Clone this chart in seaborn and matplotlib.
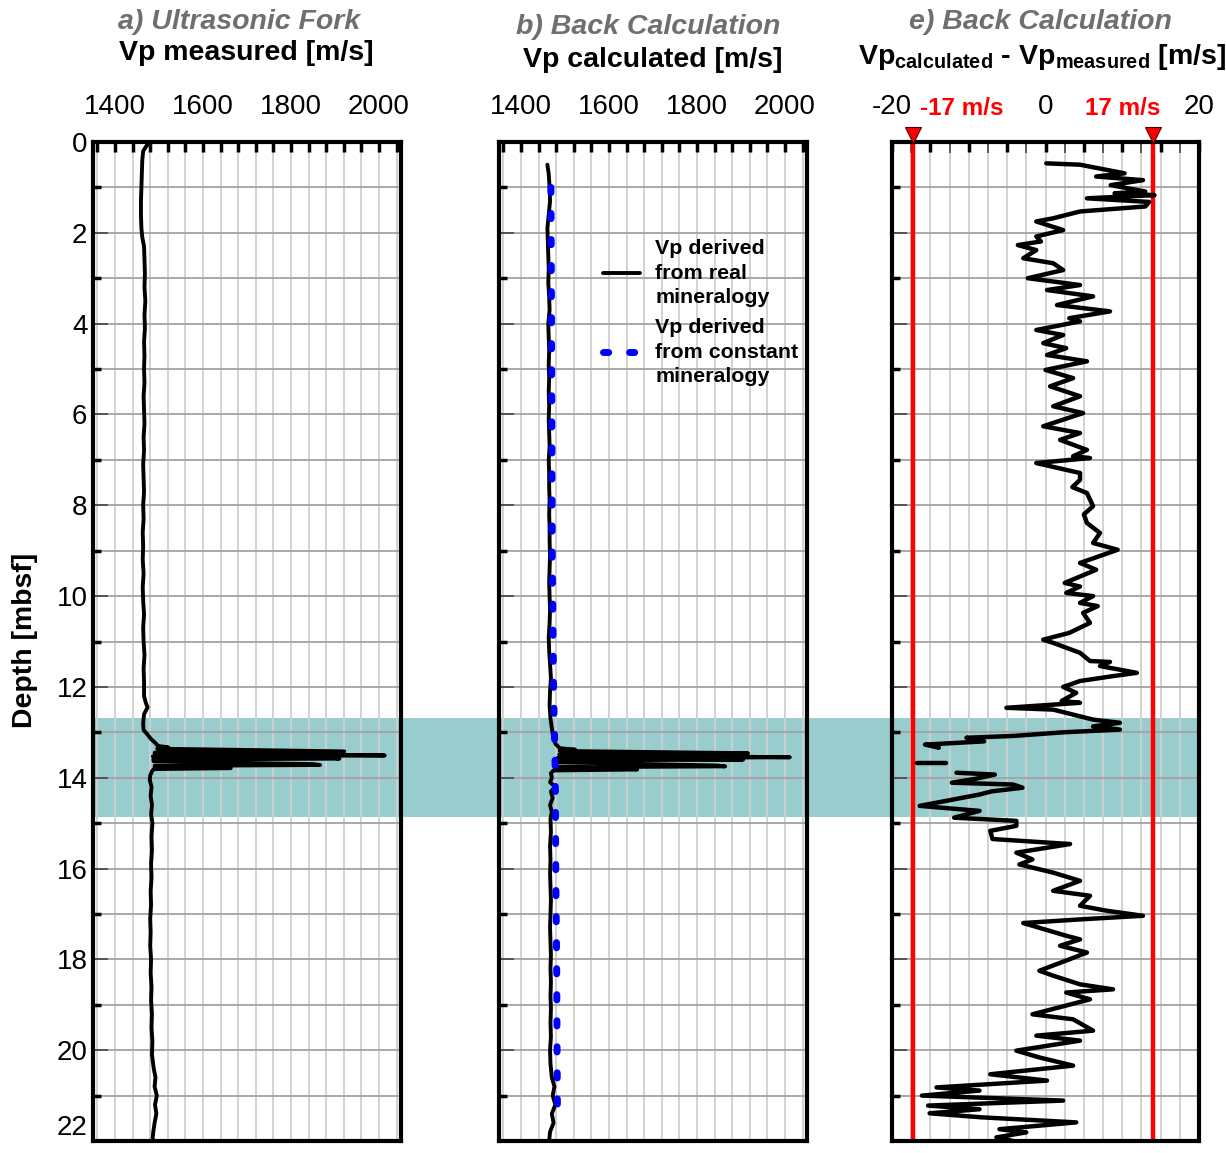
import numpy as np
import pandas as pd
import matplotlib
matplotlib.use("Agg")
import matplotlib.pyplot as plt
import matplotlib.transforms as mtransforms
from matplotlib.patches import Rectangle
import seaborn as sns

# ---------------- data ----------------
# a) Ultrasonic fork, Vp measured
a_depth = [0.0, 0.08, 0.2, 0.4, 0.7, 1.0, 1.3, 1.6, 1.9, 2.1, 2.3, 2.6, 2.9, 3.2, 3.5, 3.8,
           4.1, 4.4, 4.7, 5.0, 5.3, 5.6, 5.9, 6.2, 6.5, 6.8, 7.1, 7.4, 7.7, 8.0, 8.3, 8.6,
           8.9, 9.2, 9.5, 9.8, 10.1, 10.4, 10.7, 11.0, 11.3, 11.6, 11.9, 12.2, 12.35, 12.45,
           12.6, 12.8, 12.95, 13.05, 13.15, 13.22, 13.3, 13.33, 13.36, 13.42, 13.45,
           13.51, 13.53, 13.56, 13.58, 13.60, 13.64, 13.70, 13.72, 13.74, 13.77, 13.79,
           13.81, 13.86, 13.95, 14.05, 14.2, 14.4, 14.6, 14.8, 15.0, 15.3, 15.6, 15.9, 16.2,
           16.5, 16.8, 17.1, 17.4, 17.7, 18.0, 18.3, 18.6, 18.9, 19.2, 19.5, 19.8, 20.1, 20.4,
           20.6, 20.8, 21.0, 21.2, 21.4, 21.6, 21.8, 22.0]
a_vp = [1482, 1472, 1464, 1462, 1461, 1460, 1459, 1459, 1460, 1462, 1466, 1467, 1468, 1467,
        1469, 1467, 1468, 1466, 1467, 1466, 1467, 1465, 1466, 1467, 1465, 1466, 1464, 1465,
        1466, 1464, 1465, 1463, 1464, 1463, 1465, 1463, 1464, 1466, 1464, 1465, 1467, 1465,
        1466, 1466, 1470, 1474, 1466, 1464, 1465, 1474, 1482, 1490, 1498, 1521, 1496, 1921,
        1490, 2013, 1486, 1895, 1910, 1487, 1488, 1850, 1866, 1490, 1655, 1663,
        1488, 1484, 1480, 1479, 1483, 1481, 1484, 1482, 1485, 1483, 1484, 1482, 1483, 1481,
        1482, 1480, 1481, 1480, 1482, 1481, 1483, 1482, 1484, 1483, 1485, 1484, 1488, 1492,
        1490, 1495, 1491, 1494, 1490, 1487, 1485]

# b) Back calculation, Vp from real mineralogy
b_depth = [0.5, 0.7, 1.0, 1.3, 1.6, 1.9, 2.2, 2.5, 2.8, 3.1, 3.4, 3.7, 4.0, 4.3, 4.6, 4.9,
           5.2, 5.5, 5.8, 6.1, 6.4, 6.7, 7.0, 7.3, 7.6, 7.9, 8.2, 8.5, 8.8, 9.1, 9.4, 9.7,
           10.0, 10.3, 10.6, 10.9, 11.2, 11.5, 11.8, 12.1, 12.4, 12.7, 12.9, 13.1, 13.25,
           13.35, 13.38, 13.41, 13.46, 13.49, 13.55, 13.57, 13.60, 13.62, 13.66,
           13.73, 13.75, 13.77, 13.80, 13.82, 13.84, 13.9, 14.0, 14.1, 14.2, 14.3, 14.45, 14.6,
           14.75, 14.9, 15.2, 15.5, 15.8, 16.1, 16.4, 16.7, 17.0, 17.3, 17.6, 17.9, 18.2, 18.5,
           18.8, 19.1, 19.4, 19.7, 20.0, 20.3, 20.6, 20.8, 21.0, 21.2, 21.4, 21.6, 21.8, 22.0]
b_vp = [1460, 1463, 1465, 1466, 1463, 1460, 1461, 1462, 1463, 1462, 1464, 1465, 1462, 1463,
        1464, 1463, 1464, 1463, 1464, 1463, 1464, 1465, 1463, 1464, 1464, 1465, 1464, 1465,
        1465, 1466, 1465, 1464, 1465, 1466, 1465, 1463, 1464, 1466, 1468, 1466, 1465, 1467,
        1470, 1473, 1478, 1488, 1523, 1488, 1916, 1487, 2011, 1482, 1905, 1480,
        1478, 1845, 1864, 1476, 1655, 1664, 1474, 1468, 1470, 1466, 1478, 1468, 1472, 1466,
        1470, 1467, 1468, 1466, 1467, 1466, 1467, 1468, 1467, 1466, 1467, 1468, 1467, 1468,
        1467, 1468, 1467, 1468, 1466, 1467, 1470, 1476, 1472, 1478, 1470, 1474, 1466, 1464]

# b) Vp from constant mineralogy
c_depth = [1.0, 3.0, 6.0, 9.0, 12.0, 13.0, 14.0, 16.0, 18.0, 20.0, 21.6]
c_vp = [1468, 1469, 1470, 1471, 1474, 1476, 1478, 1479, 1481, 1482, 1483]

# e) Vp calculated - Vp measured
e_depth = [0.47, 0.50, 0.69, 0.76, 0.84, 0.95, 1.09, 1.13, 1.17, 1.24, 1.32, 1.42, 1.53, 1.68,
           1.75, 1.94, 2.08, 2.19, 2.27, 2.38, 2.56, 2.67, 2.82, 3.00, 3.15, 3.26, 3.40, 3.59,
           3.73, 3.88, 3.95, 4.14, 4.25, 4.43, 4.54, 4.69, 4.83, 5.02, 5.20, 5.38, 5.60, 5.82,
           5.97, 6.26, 6.41, 6.56, 6.78, 6.92, 6.96, 7.07, 7.29, 7.44, 7.60, 7.73, 8.02, 8.20,
           8.39, 8.61, 8.83, 8.98, 9.27, 9.42, 9.71, 9.79, 9.93, 10.00, 10.15, 10.22, 10.37,
           10.59, 10.81, 10.96, 11.03, 11.25, 11.43, 11.45, 11.54, 11.69, 11.76, 11.87, 12.00,
           12.13, 12.31, 12.35, 12.46, 12.50, 12.72, 12.79, 12.87, 12.94, 13.00, 13.08, 13.12,
           13.20, 13.27, 13.34]
e_diff = [0.1, 4.5, 10.3, 6.6, 12.7, 8.5, 13.0, 9.0, 14.2, 5.4, 13.5, 13.0, 4.5, 1.0,
          -1.2, 2.3, -1.2, -0.6, -3.6, -1.2, -2.9, 1.0, 2.3, -2.3, 4.5, 0.2, 6.2, 1.5,
          8.4, 3.1, 4.5, -1.2, 2.3, -0.3, 2.7, 0.2, 5.4, 0.0, 3.6, 0.6, 4.5, 1.0,
          4.9, -0.3, 4.5, 1.9, 5.4, 3.6, 5.8, -1.2, 4.5, 4.5, 3.5, 5.4, 6.2, 5.0,
          5.4, 7.1, 6.2, 9.4, 4.5, 6.6, 2.5, 4.5, 2.7, 6.2, 4.5, 6.8, 4.9,
          5.8, 3.1, -0.3, 1.0, 4.5, 5.8, 8.4, 7.1, 11.9, 8.9, 4.5, 2.3,
          4.0, 2.1, 4.5, -5.1, 1.0, 6.2, 9.7, 6.2, 9.7, 2.3, -4.2, -10.3,
          -8.0, -15.7, -13.9]
e_gap_depth = [13.67, 13.67]
e_gap_diff = [-16.8, -12.9]
e2_depth = [13.89, 13.93, 14.02, 14.11, 14.15, 14.22, 14.30, 14.37, 14.62, 14.73, 14.88, 14.95,
            15.06, 15.17, 15.35, 15.46, 15.65, 15.80, 15.91, 16.09, 16.27, 16.49, 16.60, 16.82,
            16.93, 17.04, 17.12, 17.20, 17.48, 17.56, 17.70, 17.85, 18.00, 18.25, 18.36, 18.55,
            18.66, 18.73, 18.88, 19.21, 19.32, 19.57, 19.68, 19.79, 20.01, 20.16, 20.34, 20.53,
            20.67, 20.82, 20.89, 21.00, 21.11, 21.22, 21.30, 21.39, 21.48, 21.59, 21.74, 21.81,
            21.92, 22.00]
e2_diff = [-11.6, -6.6, -9.0, -12.2, -4.2, -3.0, -7.0, -8.6, -16.4, -8.6, -11.9, -3.8,
           -3.8, -7.2, -6.9, 3.2, -3.8, -1.7, -3.4, 1.0, 4.5, 1.0, 5.8, 4.5,
           8.0, 12.7, 4.5, -2.9, 2.7, 4.5, 1.9, 5.4, 3.1, -0.8, 1.0, 4.5,
           8.8, 2.7, 5.8, -1.7, 3.6, 6.2, -1.2, 4.5, -3.8, -0.8, 3.6, -7.2,
           0.2, -14.2, -8.6, -16.1, 2.3, -15.3, -8.6, -15.1, -8.2, 4.0, -6.0, -2.5,
           -6.4, -4.2]

e_limits = [-17.2, 14.0]
e_limit_labels = ["-17 m/s", "17 m/s"]
band_depth = [12.69, 14.87]

vp_ticks = [1400, 1600, 1800, 2000]
diff_ticks = [-20, 0, 20]
depth_ticks = list(range(0, 23, 2))

# ---------------- style ----------------
sns.set_style("white")
plt.rcParams['font.family'] = ['Liberation Sans', 'DejaVu Sans']
plt.rcParams['text.color'] = 'black'
plt.rcParams['axes.labelcolor'] = 'black'
plt.rcParams['xtick.color'] = 'black'
plt.rcParams['ytick.color'] = 'black'
plt.rcParams['mathtext.fontset'] = 'custom'
plt.rcParams['mathtext.rm'] = 'Liberation Sans'
plt.rcParams['mathtext.bf'] = 'Liberation Sans:bold'
plt.rcParams['mathtext.it'] = 'Liberation Sans:italic'

W, H = 1226, 1153
fig = plt.figure(figsize=(W / 100, H / 100), dpi=100)
TEAL = '#99cccc'
GRAY_T = '#6f6f6f'


def px_axes(l, t, r, b):
    return fig.add_axes([l / W, 1 - b / H, (r - l) / W, (b - t) / H])


ax_a = px_axes(93, 142, 401, 1141)
ax_b = px_axes(499, 142, 807, 1141)
ax_e = px_axes(892, 142, 1199, 1141)

# band across whole figure (between panels)
rect = Rectangle((93 / W, band_depth[0]), (1199 - 93) / W, band_depth[1] - band_depth[0],
                 transform=mtransforms.blended_transform_factory(fig.transFigure, ax_a.transData),
                 facecolor=TEAL, edgecolor='none', zorder=-1)
fig.add_artist(rect)


def style_axes(ax, xlim, major_x, minor_x, xlabels_at, show_y):
    ax.set_axisbelow('line')
    ax.set_xlim(*xlim)
    ax.set_ylim(22, 0)
    ax.axhspan(band_depth[0], band_depth[1], color=TEAL, lw=0, zorder=1)
    ax.set_xticks(major_x)
    ax.set_xticklabels([(f"{t:g}" if t in xlabels_at else "") for t in major_x])
    if minor_x is not None:
        ax.set_xticks(minor_x, minor=True)
    ax.set_yticks(depth_ticks)
    ax.set_yticks(list(range(1, 22, 2)), minor=True)
    if show_y:
        ax.set_yticklabels([str(t) for t in depth_ticks])
    else:
        ax.set_yticklabels([])
    ax.tick_params(axis='both', which='both', direction='in', top=True, bottom=False,
                   left=True, right=False, labeltop=True, labelbottom=False,
                   labelsize=20, labelcolor='black')
    ax.tick_params(axis='x', which='major', length=7, width=2.5, color='black', pad=16)
    ax.tick_params(axis='x', which='minor', length=8, width=1.2, color='#444444')
    ax.tick_params(axis='y', which='major', length=11, width=1.2, color='#444444', pad=4)
    ax.tick_params(axis='y', which='minor', length=6, width=2.5, color='black')
    ax.xaxis.grid(True, which='both', color='#cfcfcf', lw=1.3)
    ax.yaxis.grid(True, which='both', color='#a3a3a3', lw=1.3)
    for s in ax.spines.values():
        s.set_visible(True)
        s.set_color('black')
        s.set_linewidth(3)
    ax.set_xlabel('')
    ax.set_ylabel('')


vp_grid = list(range(1360, 2041, 40))
style_axes(ax_a, (1350, 2050), vp_grid, None, vp_ticks, True)
style_axes(ax_b, (1350, 2050), vp_grid, None, vp_ticks, False)
style_axes(ax_e, (-20, 20), list(np.arange(-20, 20.1, 5)), list(np.arange(-17.5, 18, 5)),
           diff_ticks, False)
# keep the lowest depth label inside the canvas
ax_a.get_yticklabels()[-1].set_va('bottom')

# ---------------- curves ----------------
sns.lineplot(x=a_vp, y=a_depth, sort=False, estimator=None, color='black', linewidth=2.8,
             ax=ax_a, zorder=3)
sns.lineplot(x=b_vp, y=b_depth, sort=False, estimator=None, color='black', linewidth=2.8,
             ax=ax_b, zorder=3)
sns.lineplot(x=c_vp, y=c_depth, sort=False, estimator=None, color='#0000ff', linewidth=5,
             linestyle=(0, (0.75, 3.0)), dash_capstyle='round', ax=ax_b, zorder=4)

for lim in e_limits:
    ax_e.axvline(lim, color='#ff0000', lw=3.2, zorder=2)
sns.lineplot(x=e_diff, y=e_depth, sort=False, estimator=None, color='black', linewidth=3.2,
             ax=ax_e, zorder=3)
sns.lineplot(x=e_gap_diff, y=e_gap_depth, sort=False, estimator=None, color='black',
             linewidth=3.2, ax=ax_e, zorder=3)
sns.lineplot(x=e2_diff, y=e2_depth, sort=False, estimator=None, color='black', linewidth=3.2,
             ax=ax_e, zorder=3)

# red markers & labels
trans_e = mtransforms.blended_transform_factory(ax_e.transData, ax_e.transAxes)
ax_e.plot(e_limits, [1.0075, 1.0075], linestyle='none', marker='v', markersize=11,
          markerfacecolor='#ff0000', markeredgecolor='#550000', markeredgewidth=0.8,
          transform=trans_e, clip_on=False, zorder=6)
label_x = [-10.9, 10.1]
for lx, txt in zip(label_x, e_limit_labels):
    ax_e.text(lx, 1.034, txt, transform=trans_e, color='#ff0000', fontsize=17.5,
              fontweight='bold', ha='center', va='center')

# legend in panel b
h_real, h_const = ax_b.lines[0], ax_b.lines[1]
leg = ax_b.legend([h_real, h_const],
                  ['Vp derived\nfrom real\nmineralogy', 'Vp derived\nfrom constant\nmineralogy'],
                  loc='upper left', bbox_to_anchor=(0.338, 0.903), frameon=False,
                  prop={'weight': 'bold', 'size': 15.4}, handlelength=1.73,
                  handletextpad=0.7, borderpad=0, borderaxespad=0, labelspacing=0.5)
for t in leg.get_texts():
    t.set_linespacing(1.38)
    t.set_color('black')

# ---------------- titles ----------------
def ftext(x, y, s, **kw):
    fig.text(x / W, 1 - y / H, s, ha='center', va='center', **kw)


ftext(239, 22, 'a) Ultrasonic Fork', color=GRAY_T, fontsize=20.5, fontweight='bold',
      fontstyle='italic')
ftext(246, 53, 'Vp measured [m/s]', fontsize=20.5, fontweight='bold', color='black')
ftext(648, 27, 'b) Back Calculation', color=GRAY_T, fontsize=20.5, fontweight='bold',
      fontstyle='italic')
ftext(653, 60, 'Vp calculated [m/s]', fontsize=20.5, fontweight='bold', color='black')
ftext(1040, 22, 'e) Back Calculation', color=GRAY_T, fontsize=20.5, fontweight='bold',
      fontstyle='italic')
ftext(1042, 57, r'Vp$_{\mathbf{calculated}}$ - Vp$_{\mathbf{measured}}$ [m/s]', fontsize=20.5,
      fontweight='bold', color='black')
ftext(25, 640, 'Depth [mbsf]', fontsize=20.4, fontweight='bold', rotation=90, color='black')

fig.savefig('out.png', dpi=100)
